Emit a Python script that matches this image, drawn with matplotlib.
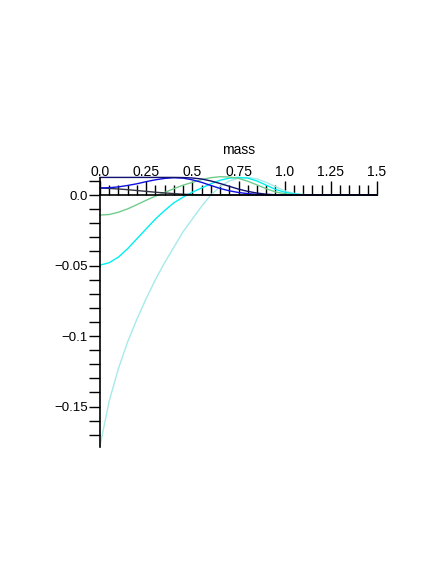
import matplotlib
matplotlib.use("Agg")
import matplotlib.pyplot as plt
from matplotlib.ticker import MultipleLocator, FixedLocator, FixedFormatter

plt.rcParams['font.family'] = ['Liberation Sans', 'DejaVu Sans']

mass = [0.00, 0.05, 0.10, 0.15, 0.20, 0.25, 0.30, 0.35, 0.40, 0.45, 0.50,
        0.55, 0.60, 0.65, 0.70, 0.75, 0.80, 0.85, 0.90, 0.95, 1.00,
        1.05, 1.10, 1.15, 1.20, 1.30, 1.40, 1.50]

navy_vals = [0.0125, 0.0125, 0.0125, 0.0125, 0.0125, 0.0125, 0.0125, 0.0125, 0.0125, 0.0124, 0.0121,
             0.0114, 0.0100, 0.0082, 0.0062, 0.0042, 0.0026, 0.0014, 0.0006, 0.0002, 0.0001,
             0.0, 0.0, 0.0, 0.0, 0.0, 0.0, 0.0]
gray_vals = [0.0050, 0.0047, 0.0043, 0.0038, 0.0032, 0.0026, 0.0020, 0.0015, 0.0010, 0.0006, 0.0003,
             0.0001, 0.0, 0.0, 0.0, 0.0, 0.0, 0.0, 0.0, 0.0, 0.0,
             0.0, 0.0, 0.0, 0.0, 0.0, 0.0, 0.0]
blue_vals = [0.0050, 0.0052, 0.0058, 0.0068, 0.0080, 0.0095, 0.0108, 0.0118, 0.0123, 0.0120, 0.0108,
             0.0090, 0.0068, 0.0047, 0.0030, 0.0018, 0.0010, 0.0005, 0.0002, 0.0001, 0.0,
             0.0, 0.0, 0.0, 0.0, 0.0, 0.0, 0.0]
green_vals = [-0.0142, -0.0138, -0.0122, -0.0098, -0.0068, -0.0037, -0.0008, 0.0018, 0.0045, 0.0070, 0.0090,
              0.0110, 0.0123, 0.0130, 0.0128, 0.0118, 0.0098, 0.0072, 0.0045, 0.0022, 0.0009,
              0.0003, 0.0001, 0.0, 0.0, 0.0, 0.0, 0.0]
cyan_vals = [-0.0497, -0.0480, -0.0440, -0.0380, -0.0310, -0.0240, -0.0170, -0.0110, -0.0055, -0.0015, 0.0020,
             0.0050, 0.0080, 0.0105, 0.0120, 0.0125, 0.0120, 0.0100, 0.0070, 0.0040, 0.0020,
             0.0008, 0.0002, 0.0, 0.0, 0.0, 0.0, 0.0]
pale_vals = [-0.1780, -0.1460, -0.1230, -0.1040, -0.0880, -0.0735, -0.0600, -0.0480, -0.0370, -0.0260, -0.0170,
             -0.0080, 0.0000, 0.0060, 0.0100, 0.0120, 0.0125, 0.0115, 0.0090, 0.0060, 0.0030,
             0.0012, 0.0004, 0.0001, 0.0, 0.0, 0.0, 0.0]

series = [
    (pale_vals, '#a6eaea'),
    (cyan_vals, '#00f0f0'),
    (green_vals, '#70cc8c'),
    (gray_vals, '#333344'),
    (blue_vals, '#1010e0'),
    (navy_vals, '#101070'),
]

xticks = [0.0, 0.25, 0.5, 0.75, 1.0, 1.25, 1.5]
xticklabels = ['0.0', '0.25', '0.5', '0.75', '1.0', '1.25', '1.5']
yticks = [0.0, -0.05, -0.1, -0.15]
yticklabels = ['0.0', '\u22120.05', '\u22120.1', '\u22120.15']

fig = plt.figure(figsize=(4.36, 5.64), dpi=100)
ax = fig.add_axes([100 / 436, 1 - 446.7 / 564, 277 / 436, (446.7 - 177.7) / 564])

for vals, col in series:
    ax.plot(mass, vals, color=col, lw=1.0, clip_on=False)

ax.set_xlim(0, 1.5)
ax.set_ylim(-0.1785, 0.0123)

ax.spines['bottom'].set_visible(False)
ax.spines['right'].set_visible(False)
ax.spines['top'].set_position(('data', 0))
ax.spines['left'].set_position(('data', 0))
ax.spines['top'].set_linewidth(1.2)
ax.spines['left'].set_linewidth(1.2)

ax.xaxis.set_ticks_position('top')
ax.xaxis.set_major_locator(FixedLocator(xticks))
ax.xaxis.set_major_formatter(FixedFormatter(xticklabels))
ax.xaxis.set_minor_locator(MultipleLocator(0.05))
ax.tick_params(axis='x', which='major', direction='out', length=10, width=1.0,
               labelsize=10, pad=1.5, top=True, bottom=False, labeltop=True, labelbottom=False)
ax.tick_params(axis='x', which='minor', direction='out', length=7, width=1.0,
               top=True, bottom=False)

ax.yaxis.set_ticks_position('left')
ax.yaxis.set_major_locator(FixedLocator(yticks))
ax.yaxis.set_major_formatter(FixedFormatter(yticklabels))
ax.yaxis.set_minor_locator(MultipleLocator(0.01))
ax.tick_params(axis='y', which='major', direction='out', length=8, width=1.0,
               labelsize=9.5, pad=1)
ax.tick_params(axis='y', which='minor', direction='out', length=8, width=1.0)

ax.xaxis.set_label_position('top')
ax.set_xlabel('mass', fontsize=10, labelpad=8)

fig.savefig('out.png', dpi=100)
